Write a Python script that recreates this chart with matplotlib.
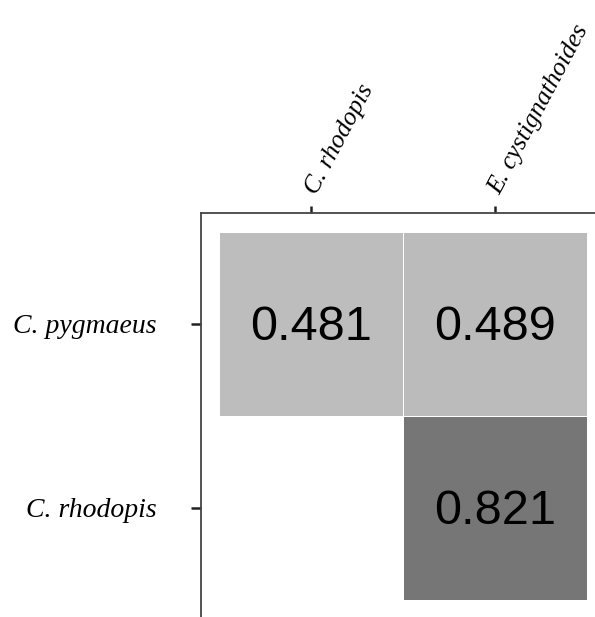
import numpy as np
import matplotlib.pyplot as plt
from matplotlib.colors import LinearSegmentedColormap

# column / row species and the pairwise values (lower-left empty)
col_labels = ['C. rhodopis', 'E. cystignathoides']
row_labels = ['C. pygmaeus', 'C. rhodopis']
vals = np.array([[0.481, 0.489],
                 [np.nan, 0.821]])

cmap = LinearSegmentedColormap.from_list('g', ['#bdbdbd', '#767676'])
cmap.set_bad('white')

fig = plt.figure(figsize=(5.95, 6.17), dpi=100)
ax = fig.add_axes([201/595, -0.002, 404/595, 405/617])

data = np.ma.masked_invalid(vals)
ax.pcolormesh(np.arange(3), np.arange(3), data, cmap=cmap, vmin=0.481, vmax=0.821,
              edgecolors='white', linewidth=0.6)

for i in range(2):
    for j in range(2):
        if not np.isnan(vals[i, j]):
            ax.text(j + 0.5, i + 0.52, '%.3f' % vals[i, j], ha='center', va='center',
                    fontsize=35, family='Liberation Sans', color='black')

ax.set_xlim(-0.1, 2.1)
ax.set_ylim(2.1, -0.1)

ax.xaxis.tick_top()
ax.set_xticks([0.5, 1.5])
ax.set_xticklabels(col_labels, rotation=62, ha='left', va='center',
                   rotation_mode='anchor', family='Liberation Serif',
                   style='italic', fontsize=18.5)
ax.set_yticks([0.5, 1.5])
ax.set_yticklabels(row_labels, family='Liberation Serif', style='italic', fontsize=20)
ax.tick_params(axis='x', length=5, width=1.8, pad=10, color='#222222')
ax.tick_params(axis='y', length=7, width=1.8, pad=25, color='#222222')

for s in ['right', 'bottom']:
    ax.spines[s].set_visible(False)
for s in ['left', 'top']:
    ax.spines[s].set_color('#444444')
    ax.spines[s].set_linewidth(1.3)

fig.savefig('out.png', dpi=100)
